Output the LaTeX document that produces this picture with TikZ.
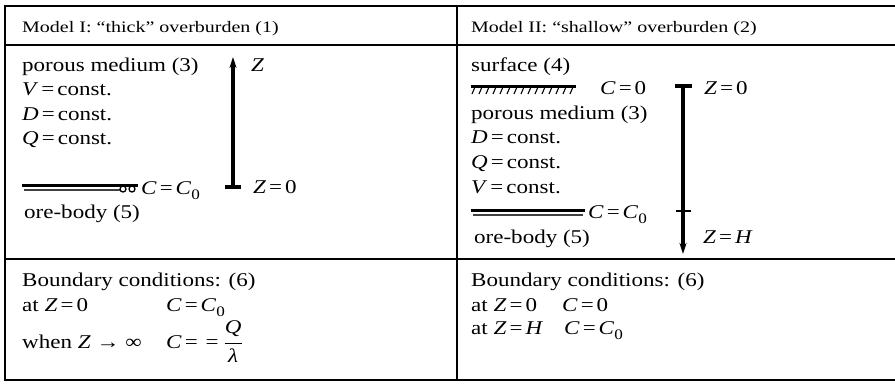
\documentclass[tikz,border=0pt]{standalone}
\usepackage{fontspec}
\usetikzlibrary{arrows.meta}
\setmainfont{Liberation Serif}
\newfontfamily\hdrfont[FakeStretch=1.25]{Liberation Serif}
\newfontfamily\bodyfont[FakeStretch=1.18]{Liberation Serif}
\newcommand{\vv}[1]{\textit{#1}}
\newcommand{\eqs}{\kern3pt=\kern3pt}
\newcommand{\zsub}{\raisebox{-5pt}{\fontsize{14.5}{14.5}\selectfont 0}}
\tikzset{
  txt/.style={anchor=base west, inner sep=0pt, font=\bodyfont\fontsize{19.5}{24}\selectfont},
  hdr/.style={anchor=base west, inner sep=0pt, font=\hdrfont\fontsize{16}{20}\selectfont},
  frame/.style={line width=1.8pt},
  axis/.style={line width=3.4pt},
  tip/.style={-{Stealth[length=11pt,width=7pt]}},
  oreline/.style={line width=3pt},
  orethin/.style={line width=1.2pt, black!75},
}
\begin{document}
\begin{tikzpicture}[x=1pt,y=-1pt]
\useasboundingbox (0,0) rectangle (895,384);
\fill[white] (0,0) rectangle (895,384);
% frame
\coordinate (TL) at (5,6);
\coordinate (BR) at (896,380);
\draw[frame] (TL) rectangle (BR);
\draw[frame] (457,6) -- (457,380);
\draw[frame] (5,45) -- (896,45);
\draw[frame] (5,259) -- (896,259);
% headers
\node[hdr] (h1) at (22,32) {Model I: “thick” overburden (1)};
\node[hdr] (h2) at (471,32) {Model II: “shallow” overburden (2)};
% ===== Left model =====
\node[txt] (pm1) at (22,71) {porous medium (3)};
\node[txt] (v1) at (22,95) {\vv{V}\eqs const.};
\node[txt] (d1) at (22,120) {\vv{D}\eqs const.};
\node[txt] (q1) at (22,144) {\vv{Q}\eqs const.};
% ore body symbol
\draw[oreline] (22,185) -- (138,185);
\draw[orethin] (24,190) -- (120,190);
\draw[line width=1.3pt] (123,189) circle (3pt) (132,189) circle (3pt);
\node[txt] (cc1) at (141,194) {\vv{C}\eqs\vv{C}\zsub};
\node[txt] (ob1) at (24,218) {ore-body (5)};
% axis
\coordinate (a1b) at (233,187);
\coordinate (a1t) at (233,57);
\draw[axis,tip] (a1b) -- (a1t);
\draw[axis] (225,187) -- (241,187);
\node[txt] (z1) at (251,71) {\vv{Z}};
\node[txt] (z10) at (253,193) {\vv{Z}\eqs 0};
% boundary
\node[txt] (bc1) at (22,286) {Boundary conditions: (6)};
\node[txt] (at1) at (22,311) {at \vv{Z}\eqs 0};
\node[txt] (at1c) at (166,311) {\vv{C}\eqs\vv{C}\zsub};
\node[txt] (wh1) at (22,348) {when \vv{Z} → ∞};
\node[txt] (wh1c) at (166,348) {\vv{C}\eqs\kern5pt=\kern5pt$\displaystyle\frac{\vv{Q}}{\vv{λ}}$};
% ===== Right model =====
\node[txt] (sf) at (471,71) {surface (4)};
\draw[line width=3pt] (471,86) -- (576,86);
\foreach \x in {472,479,...,570} \draw[line width=1.1pt] (\x,94) -- (\x+3,87);
\node[txt] (c0) at (600,94) {\vv{C}\eqs 0};
\node[txt] (pm2) at (471,119) {porous medium (3)};
\node[txt] (d2) at (471,143) {\vv{D}\eqs const.};
\node[txt] (q2) at (471,168) {\vv{Q}\eqs const.};
\node[txt] (v2) at (471,193) {\vv{V}\eqs const.};
\draw[oreline] (471,210) -- (585,210);
\draw[orethin] (473,215) -- (583,215);
\node[txt] (cc2) at (588,218) {\vv{C}\eqs\vv{C}\zsub};
\node[txt] (ob2) at (474,243) {ore-body (5)};
\coordinate (a2t) at (683,86);
\coordinate (a2b) at (683,254);
\draw[axis,tip] (a2t) -- (a2b);
\draw[axis] (675,86) -- (692,86);
\draw[line width=2.4pt] (676,211) -- (691,211);
\node[txt] (z20) at (704,94) {\vv{Z}\eqs 0};
\node[txt] (z2h) at (703,243) {\vv{Z}\eqs\vv{H}};
\node[txt] (bc2) at (471,286) {Boundary conditions: (6)};
\node[txt] (at2) at (471,311) {at \vv{Z}\eqs 0};
\node[txt] (at2c) at (562,311) {\vv{C}\eqs 0};
\node[txt] (at3) at (471,334) {at \vv{Z}\eqs\vv{H}};
\node[txt] (at3c) at (564,334) {\vv{C}\eqs\vv{C}\zsub};
\end{tikzpicture}
\end{document}
